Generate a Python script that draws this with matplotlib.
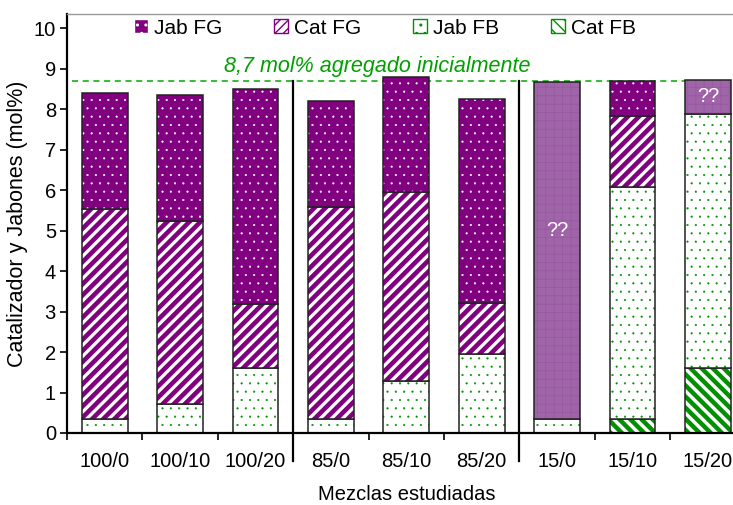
import numpy as np
import matplotlib
matplotlib.use('Agg')
import matplotlib.pyplot as plt
from matplotlib.patches import Patch

plt.rcParams['font.family'] = ['Liberation Sans', 'DejaVu Sans']

# data (mol%), stacked from the bottom up
mezclas = ['100/0', '100/10', '100/20', '85/0', '85/10', '85/20', '15/0', '15/10', '15/20']
cat_fb = [0, 0, 0, 0, 0, 0, 0, 0.34, 1.60]
jab_fb = [0.34, 0.71, 1.60, 0.34, 1.28, 1.96, 0.34, 5.73, 6.29]
cat_fg = [5.19, 4.52, 1.58, 5.25, 4.68, 1.24, 0, 1.75, 0]
jab_fg = [2.87, 3.13, 5.32, 2.62, 2.84, 5.05, 0, 0.88, 0]
desconocido = [0, 0, 0, 0, 0, 0, 8.33, 0, 0.83]
inicial = 8.7

purple = '#800080'
green = '#009000'
light_purple = '#a064a8'

fig = plt.figure(figsize=(7.33, 5.05), dpi=100)
ax = fig.add_axes([67/733, 72/505, 678.6/733, 419/505])

x = np.arange(len(mezclas))
w = 0.61

# (values, face, hatch colour, hatch, hatch linewidth)
series = [
    (cat_fb, 'white', green, '\\\\\\', 3.2),
    (jab_fb, 'white', green, '..', 0.3),
    (cat_fg, 'white', purple, '///', 3.3),
    (jab_fg, purple, 'white', '..', 0.3),
    (desconocido, light_purple, '#9658a0', '++', 0.5),
]

bottom = np.zeros(len(mezclas))
for vals, face, hcol, hatch, hlw in series:
    vals = np.array(vals, dtype=float)
    with plt.rc_context({'hatch.linewidth': hlw}):
        ax.bar(x, vals, w, bottom=bottom, color=face, edgecolor=hcol,
               hatch=hatch, linewidth=0)
    mask = vals > 0
    ax.bar(x[mask], vals[mask], w, bottom=bottom[mask], fill=False,
           edgecolor='#222222', linewidth=1.1)
    bottom += vals

# "??" labels in the unknown segments
ax.text(6, 5.0, '??', color='white', ha='center', va='center', fontsize=14.5)
ax.text(8, 8.32, '??', color='white', ha='center', va='center', fontsize=14.5)

# initial catalyst line
ax.axhline(inicial, xmin=0.008, color='#00aa00', ls=(0, (4, 3)), lw=1.1, zorder=0)
ax.text(3.62, 9.05, '8,7 mol% agregado inicialmente', color='#00a000',
        style='italic', fontsize=15.5, ha='center', va='center')

# separators between the groups
for xs in [2.5, 5.5]:
    ax.plot([xs, xs], [-0.7, inicial], color='black', lw=1.6, clip_on=False)

ax.set_xlim(-0.5, 8.5)
ax.set_ylim(0, 10.35)
ax.set_yticks(range(0, 11))
ax.set_xticks(np.arange(-0.5, 9, 1))
ax.set_xticklabels([])
ax.set_xticks(x, minor=True)
ax.set_xticklabels(mezclas, minor=True)
ax.tick_params(axis='x', which='major', length=5, width=1.2, direction='out')
ax.tick_params(axis='x', which='minor', length=0, pad=14, labelsize=14.5)
ax.tick_params(axis='y', length=5, width=1.2, direction='out', labelsize=14.5, pad=3)

ax.spines['left'].set_linewidth(1.6)
ax.spines['bottom'].set_linewidth(1.6)
ax.spines['top'].set_color('#999999')
ax.spines['top'].set_linewidth(1)
ax.spines['right'].set_visible(False)

ax.set_xlabel('Mezclas estudiadas', fontsize=14.5, labelpad=10)
ax.set_ylabel('Catalizador y Jabones (mol%)', fontsize=15.5, labelpad=4)

handles = [
    Patch(facecolor=purple, edgecolor='white', hatch='..', label='Jab FG'),
    Patch(facecolor='white', edgecolor=purple, hatch='////', label='Cat FG'),
    Patch(facecolor='white', edgecolor=green, hatch='..', label='Jab FB'),
    Patch(facecolor='white', edgecolor=green, hatch='\\\\\\', label='Cat FB'),
]
ax.legend(handles=handles, loc='center', bbox_to_anchor=(385/733, 1 - 28/505),
          bbox_transform=fig.transFigure, ncol=4, frameon=False, fontsize=15,
          handlelength=0.65, handleheight=0.65, handletextpad=0.3,
          columnspacing=2.5)

fig.savefig('out.png', dpi=100)
